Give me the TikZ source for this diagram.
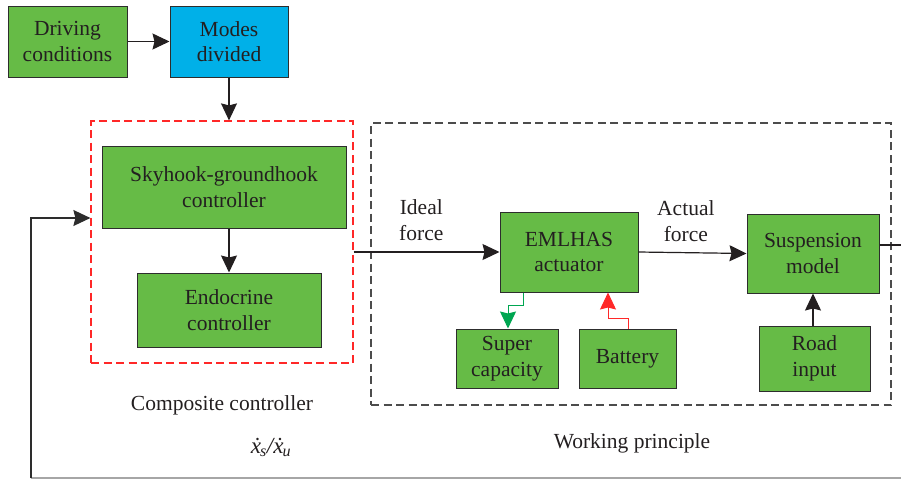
\documentclass[tikz,border=0pt]{standalone}
\usepackage{fontspec}
\setmainfont{Liberation Serif}
\usetikzlibrary{arrows.meta,calc}

\definecolor{boxgreen}{RGB}{102,187,70}
\definecolor{boxblue}{RGB}{0,176,232}
\definecolor{edge}{RGB}{45,45,45}
\definecolor{ink}{RGB}{35,31,32}
\definecolor{flowgreen}{RGB}{0,166,81}
\definecolor{flowred}{RGB}{255,40,40}

\begin{document}
\begin{tikzpicture}[x=1pt,y=-1pt,
  txt/.style={text=ink, font=\fontsize{21.5}{25.5}\selectfont},
  block/.style={txt, draw=edge, line width=1pt, fill=boxgreen, inner sep=0pt, align=center},
  lbl/.style={txt, inner sep=0pt, align=center},
  tip/.style={-{Stealth[length=17pt,width=16pt,inset=2pt]}},
  arr/.style={draw=ink, line width=1.2pt, tip},
  frame/.style={line width=1.2pt, dash pattern=on 8pt off 4.5pt},
]
\useasboundingbox (0,0) rectangle (901,479);

% mode selection
\node[block, minimum width=119pt, minimum height=71pt] (drive) at (67.5,41.5) {Driving\\conditions};
\node[block, fill=boxblue, minimum width=118pt, minimum height=71pt] (modes) at (229,41.5) {Modes\\divided};

% composite controller
\node[frame, draw=flowred, minimum width=262pt, minimum height=242pt] (comp) at (222,242) {};
\node[block, minimum width=244pt, minimum height=82pt] (sky) at (224,187) {Skyhook-groundhook\\controller};
\node[block, minimum width=184pt, minimum height=74pt] (endo) at (229,310) {Endocrine\\controller};

% working principle
\node[frame, draw=edge!85, minimum width=520pt, minimum height=282pt] (work) at (631,264) {};
\node[block, minimum width=138pt, minimum height=80pt] (eml) at (569,252) {EMLHAS\\actuator};
\node[block, minimum width=102pt, minimum height=59pt] (sup) at (507,358.5) {Super\\capacity};
\node[block, minimum width=97pt, minimum height=59pt] (bat) at (627.5,358.5) {Battery};
\node[block, minimum width=132pt, minimum height=79pt] (susp) at (813,253.5) {Suspension\\model};
\node[block, minimum width=111pt, minimum height=65pt] (road) at (814.5,358.5) {Road\\input};

% labels
\node[lbl, anchor=west] (ideal) at (399,220) {Ideal\\force};
\node[lbl, anchor=west] (actual) at (657,221) {Actual\\force};
\node[lbl, anchor=base] (complbl) at (222,410) {Composite controller};
\node[lbl, anchor=base] (worklbl) at (632,448) {Working principle};
\node[lbl, anchor=base, font=\fontsize{23}{26}\selectfont] (state) at (271,453) {\itshape\.{x}\textsubscript{\kern-1pt s}/\.{x}\textsubscript{\kern-1pt u}};

% helper points for the feedback loop and the output
\coordinate (outR) at (901,245);
\coordinate (fbR) at (901,478);
\coordinate (fbL) at (31,478);
\coordinate (fbT) at (31,218);
\coordinate (gA) at (523,305);
\coordinate (gB) at (508,305);
\coordinate (rA) at (628,318);
\coordinate (rB) at (608,318);

% signal flow
\draw[arr] (drive) -- (modes);
\draw[arr] (modes.south) -- (modes.south |- comp.north);
\draw[arr] (sky.south -| endo.north) -- (endo.north);
\draw[arr] (comp.east |- eml.west) -- (eml.west);
\draw[arr] (eml.east) -- (susp.west);
\draw[arr] (road.north -| susp.south) -- (susp.south);
\draw[draw=ink, line width=1.2pt] (susp.east |- outR) -- (outR);

% energy flow
\draw[draw=flowgreen, line width=1pt, tip] (eml.south -| gA) -- (gA) -- (gB) -- (gB |- sup.north);
\draw[draw=flowred, line width=1pt, tip] (bat.north -| rA) -- (rA) -- (rB) -- (rB |- eml.south);

% feedback of the measured states
\draw[draw=black!35, line width=1.2pt] (fbR) -- (fbL);
\draw[arr, draw=edge] (fbL) -- (fbT) -- (fbT -| comp.west);
\end{tikzpicture}
\end{document}
